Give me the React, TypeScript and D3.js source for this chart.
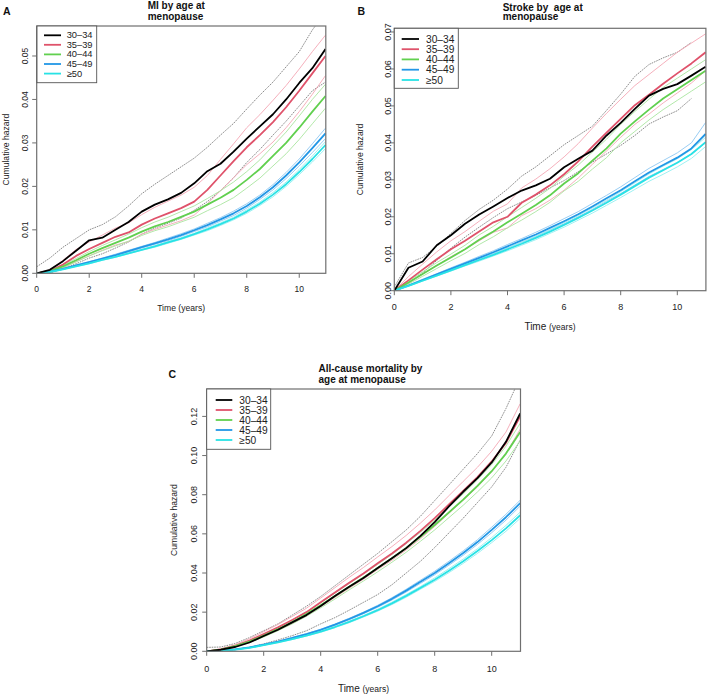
import React from "react";
import * as d3 from "d3";

// ---------- shared categories / ticks ----------
const TIMES = [0, 0.5, 1, 1.5, 2, 2.5, 3, 3.5, 4, 4.5, 5, 5.5, 6, 6.5, 7, 7.5, 8, 8.5, 9, 9.5, 10, 10.5, 11];
const GROUPS = ["30\u201334", "35\u201339", "40\u201344", "45\u201349", "\u226550"];
const GROUP_COLORS = ["#000000", "#DF536B", "#61D04F", "#2297E6", "#28E2E5"];
const CI_COLORS = ["#6e6e6e", "#F4A7B4", "#A9E59F", "#8DC7F2", "#93EFF1"];
const X_TICKS = [0, 2, 4, 6, 8, 10];
const MI_Y_TICKS = [0, 0.01, 0.02, 0.03, 0.04, 0.05];
const STROKE_Y_TICKS = [0, 0.01, 0.02, 0.03, 0.04, 0.05, 0.06, 0.07];
const DEATH_Y_TICKS = [0, 0.02, 0.04, 0.06, 0.08, 0.1, 0.12];

// ---------- Panel A: MI ----------
const MI_30_34 = [0, 0.0008, 0.0028, 0.0052, 0.0076, 0.0082, 0.0100, 0.0118, 0.0142, 0.0158, 0.0170, 0.0185, 0.0207, 0.0235, 0.0252, 0.0280, 0.0310, 0.0338, 0.0366, 0.0400, 0.0438, 0.0472, 0.0516];
const MI_30_34_HI = [0.0015, 0.0035, 0.0060, 0.0080, 0.0100, 0.0112, 0.0130, 0.0155, 0.0183, 0.0205, 0.0225, 0.0245, 0.0265, 0.0290, 0.0318, 0.0345, 0.0378, 0.0410, 0.0440, 0.0475, 0.0510, 0.0560, 0.0600];
const MI_30_34_LO = [0, 0.0001, 0.0010, 0.0022, 0.0035, 0.0045, 0.0058, 0.0072, 0.0090, 0.0104, 0.0115, 0.0127, 0.0145, 0.0165, 0.0190, 0.0220, 0.0255, 0.0285, 0.0318, 0.0350, 0.0385, 0.0420, 0.0440];
const MI_35_39 = [0, 0.0005, 0.0020, 0.0040, 0.0056, 0.0070, 0.0084, 0.0094, 0.0112, 0.0126, 0.0138, 0.0150, 0.0165, 0.0192, 0.0225, 0.0258, 0.0290, 0.0318, 0.0348, 0.0382, 0.0420, 0.0460, 0.0500];
const MI_35_39_HI = [0, 0.0008, 0.0030, 0.0055, 0.0072, 0.0088, 0.0104, 0.0116, 0.0135, 0.0152, 0.0166, 0.0180, 0.0198, 0.0225, 0.0262, 0.0298, 0.0335, 0.0365, 0.0398, 0.0432, 0.0470, 0.0510, 0.0548];
const MI_35_39_LO = [0, 0.0002, 0.0012, 0.0027, 0.0040, 0.0053, 0.0065, 0.0073, 0.0090, 0.0101, 0.0111, 0.0121, 0.0134, 0.0160, 0.0190, 0.0220, 0.0250, 0.0275, 0.0302, 0.0335, 0.0372, 0.0412, 0.0455];
const MI_40_44 = [0, 0.0005, 0.0016, 0.0030, 0.0045, 0.0058, 0.0070, 0.0082, 0.0096, 0.0108, 0.0118, 0.0130, 0.0142, 0.0158, 0.0174, 0.0192, 0.0215, 0.0240, 0.0270, 0.0300, 0.0335, 0.0372, 0.0408];
const MI_40_44_HI = [0, 0.0006, 0.0019, 0.0034, 0.0050, 0.0064, 0.0077, 0.0090, 0.0105, 0.0118, 0.0129, 0.0142, 0.0155, 0.0172, 0.0190, 0.0210, 0.0234, 0.0261, 0.0293, 0.0325, 0.0362, 0.0400, 0.0435];
const MI_40_44_LO = [0, 0.0004, 0.0013, 0.0026, 0.0040, 0.0052, 0.0063, 0.0074, 0.0087, 0.0098, 0.0107, 0.0118, 0.0129, 0.0144, 0.0158, 0.0174, 0.0196, 0.0219, 0.0247, 0.0275, 0.0308, 0.0344, 0.0380];
const MI_45_49 = [0, 0.0004, 0.0010, 0.0018, 0.0026, 0.0034, 0.0042, 0.0051, 0.0060, 0.0069, 0.0078, 0.0088, 0.0099, 0.0111, 0.0124, 0.0138, 0.0155, 0.0175, 0.0198, 0.0225, 0.0255, 0.0288, 0.0322];
const MI_45_49_HI = [0, 0.0004, 0.0011, 0.0019, 0.0027, 0.0035, 0.0044, 0.0053, 0.0062, 0.0071, 0.0081, 0.0091, 0.0102, 0.0115, 0.0128, 0.0143, 0.0160, 0.0180, 0.0204, 0.0232, 0.0263, 0.0298, 0.0334];
const MI_45_49_LO = [0, 0.0004, 0.0009, 0.0017, 0.0025, 0.0033, 0.0040, 0.0049, 0.0058, 0.0067, 0.0075, 0.0085, 0.0096, 0.0107, 0.0120, 0.0133, 0.0150, 0.0170, 0.0192, 0.0218, 0.0247, 0.0278, 0.0310];
const MI_50 = [0, 0.0003, 0.0009, 0.0016, 0.0023, 0.0031, 0.0038, 0.0046, 0.0054, 0.0062, 0.0071, 0.0080, 0.0090, 0.0101, 0.0113, 0.0126, 0.0142, 0.0160, 0.0181, 0.0205, 0.0233, 0.0263, 0.0295];
const MI_50_HI = [0, 0.0003, 0.0009, 0.0016, 0.0024, 0.0032, 0.0039, 0.0047, 0.0055, 0.0064, 0.0073, 0.0082, 0.0092, 0.0104, 0.0116, 0.0129, 0.0146, 0.0164, 0.0186, 0.0210, 0.0239, 0.0270, 0.0303];
const MI_50_LO = [0, 0.0003, 0.0009, 0.0016, 0.0022, 0.0030, 0.0037, 0.0045, 0.0053, 0.0060, 0.0069, 0.0078, 0.0088, 0.0098, 0.0110, 0.0123, 0.0138, 0.0156, 0.0176, 0.0200, 0.0227, 0.0256, 0.0287];

// ---------- Panel B: Stroke ----------
const ST_30_34 = [0, 0.0062, 0.0079, 0.0123, 0.0150, 0.0181, 0.0206, 0.0228, 0.0251, 0.0271, 0.0285, 0.0303, 0.0334, 0.0357, 0.0379, 0.0420, 0.0454, 0.0492, 0.0528, 0.0546, 0.0559, 0.0582, 0.0606];
const ST_30_34_HI = [0.0010, 0.0075, 0.0090, 0.0120, 0.0155, 0.0190, 0.0220, 0.0245, 0.0275, 0.0310, 0.0335, 0.0365, 0.0395, 0.0420, 0.0445, 0.0488, 0.0532, 0.0580, 0.0612, 0.0630, 0.0645, 0.0672, null];
const ST_30_34_LO = [0, 0.0020, 0.0048, 0.0082, 0.0115, 0.0145, 0.0172, 0.0198, 0.0222, 0.0240, 0.0258, 0.0278, 0.0298, 0.0322, 0.0348, 0.0370, 0.0393, 0.0420, 0.0451, 0.0470, 0.0487, 0.0520, null];
const ST_35_39 = [0, 0.0028, 0.0057, 0.0085, 0.0112, 0.0135, 0.0160, 0.0185, 0.0200, 0.0238, 0.0260, 0.0285, 0.0315, 0.0350, 0.0390, 0.0428, 0.0465, 0.0502, 0.0530, 0.0560, 0.0588, 0.0615, 0.0645];
const ST_35_39_HI = [0, 0.0038, 0.0072, 0.0105, 0.0135, 0.0160, 0.0188, 0.0215, 0.0235, 0.0278, 0.0302, 0.0330, 0.0362, 0.0398, 0.0440, 0.0480, 0.0518, 0.0555, 0.0585, 0.0615, 0.0645, 0.0670, 0.0695];
const ST_35_39_LO = [0, 0.0020, 0.0045, 0.0068, 0.0092, 0.0112, 0.0135, 0.0158, 0.0170, 0.0203, 0.0222, 0.0245, 0.0272, 0.0305, 0.0342, 0.0378, 0.0415, 0.0450, 0.0478, 0.0508, 0.0535, 0.0562, 0.0595];
const ST_40_44 = [0, 0.0022, 0.0045, 0.0068, 0.0090, 0.0112, 0.0138, 0.0160, 0.0185, 0.0208, 0.0232, 0.0258, 0.0290, 0.0318, 0.0352, 0.0385, 0.0425, 0.0458, 0.0490, 0.0520, 0.0545, 0.0570, 0.0595];
const ST_40_44_HI = [0, 0.0026, 0.0051, 0.0076, 0.0099, 0.0123, 0.0151, 0.0174, 0.0200, 0.0225, 0.0250, 0.0277, 0.0310, 0.0340, 0.0375, 0.0410, 0.0450, 0.0485, 0.0518, 0.0550, 0.0575, 0.0600, 0.0625];
const ST_40_44_LO = [0, 0.0018, 0.0039, 0.0060, 0.0081, 0.0101, 0.0125, 0.0146, 0.0170, 0.0191, 0.0214, 0.0239, 0.0270, 0.0296, 0.0329, 0.0360, 0.0400, 0.0431, 0.0462, 0.0490, 0.0515, 0.0540, 0.0565];
const ST_45_49 = [0, 0.0014, 0.0029, 0.0044, 0.0059, 0.0074, 0.0089, 0.0104, 0.0120, 0.0136, 0.0152, 0.0170, 0.0188, 0.0207, 0.0228, 0.0250, 0.0272, 0.0296, 0.0320, 0.0340, 0.0360, 0.0385, 0.0424];
const ST_45_49_HI = [0, 0.0015, 0.0031, 0.0046, 0.0062, 0.0077, 0.0093, 0.0108, 0.0125, 0.0141, 0.0158, 0.0176, 0.0195, 0.0214, 0.0236, 0.0258, 0.0281, 0.0306, 0.0331, 0.0352, 0.0373, 0.0400, 0.0455];
const ST_45_49_LO = [0, 0.0013, 0.0027, 0.0042, 0.0056, 0.0071, 0.0085, 0.0100, 0.0115, 0.0131, 0.0146, 0.0164, 0.0181, 0.0200, 0.0220, 0.0242, 0.0263, 0.0286, 0.0309, 0.0328, 0.0347, 0.0370, 0.0400];
const ST_50 = [0, 0.0013, 0.0027, 0.0041, 0.0055, 0.0069, 0.0083, 0.0097, 0.0112, 0.0127, 0.0143, 0.0160, 0.0178, 0.0197, 0.0217, 0.0238, 0.0260, 0.0283, 0.0306, 0.0326, 0.0346, 0.0370, 0.0402];
const ST_50_HI = [0, 0.0014, 0.0028, 0.0042, 0.0057, 0.0071, 0.0086, 0.0100, 0.0116, 0.0131, 0.0148, 0.0165, 0.0184, 0.0203, 0.0224, 0.0245, 0.0268, 0.0292, 0.0316, 0.0337, 0.0357, 0.0382, 0.0415];
const ST_50_LO = [0, 0.0012, 0.0026, 0.0040, 0.0053, 0.0067, 0.0080, 0.0094, 0.0108, 0.0123, 0.0138, 0.0155, 0.0172, 0.0191, 0.0210, 0.0231, 0.0252, 0.0274, 0.0296, 0.0315, 0.0335, 0.0358, 0.0390];

// ---------- Panel C: All-cause mortality ----------
const DE_30_34 = [0, 0.0008, 0.0022, 0.0045, 0.0078, 0.0110, 0.0148, 0.0185, 0.0232, 0.0282, 0.0330, 0.0375, 0.0425, 0.0475, 0.0527, 0.0590, 0.0660, 0.0740, 0.0815, 0.0885, 0.0965, 0.1070, 0.1215];
const DE_30_34_HI = [0.0020, 0.0022, 0.0040, 0.0070, 0.0105, 0.0140, 0.0185, 0.0230, 0.0280, 0.0335, 0.0390, 0.0445, 0.0500, 0.0560, 0.0620, 0.0690, 0.0770, 0.0850, 0.0930, 0.1010, 0.1100, 0.1240, 0.1400];
const DE_30_34_LO = [0, 0.0002, 0.0008, 0.0020, 0.0038, 0.0058, 0.0080, 0.0105, 0.0140, 0.0172, 0.0210, 0.0250, 0.0290, 0.0340, 0.0400, 0.0460, 0.0530, 0.0605, 0.0680, 0.0760, 0.0840, 0.0940, 0.1080];
const DE_35_39 = [0, 0.0010, 0.0028, 0.0055, 0.0088, 0.0122, 0.0160, 0.0200, 0.0250, 0.0300, 0.0350, 0.0398, 0.0450, 0.0500, 0.0555, 0.0615, 0.0680, 0.0750, 0.0820, 0.0890, 0.0970, 0.1065, 0.1200];
const DE_35_39_HI = [0, 0.0013, 0.0034, 0.0064, 0.0100, 0.0137, 0.0178, 0.0220, 0.0272, 0.0325, 0.0378, 0.0428, 0.0482, 0.0535, 0.0592, 0.0655, 0.0722, 0.0795, 0.0868, 0.0940, 0.1022, 0.1120, 0.1265];
const DE_35_39_LO = [0, 0.0007, 0.0022, 0.0046, 0.0076, 0.0107, 0.0142, 0.0180, 0.0228, 0.0275, 0.0322, 0.0368, 0.0418, 0.0465, 0.0518, 0.0575, 0.0638, 0.0705, 0.0772, 0.0840, 0.0918, 0.1010, 0.1135];
const DE_40_44 = [0, 0.0009, 0.0026, 0.0050, 0.0080, 0.0113, 0.0150, 0.0190, 0.0235, 0.0282, 0.0330, 0.0377, 0.0425, 0.0475, 0.0528, 0.0585, 0.0645, 0.0710, 0.0775, 0.0845, 0.0920, 0.1010, 0.1120];
const DE_40_44_HI = [0, 0.0010, 0.0029, 0.0055, 0.0087, 0.0121, 0.0160, 0.0201, 0.0248, 0.0297, 0.0346, 0.0395, 0.0444, 0.0495, 0.0550, 0.0608, 0.0670, 0.0737, 0.0804, 0.0876, 0.0954, 0.1048, 0.1165];
const DE_40_44_LO = [0, 0.0008, 0.0023, 0.0045, 0.0073, 0.0105, 0.0140, 0.0179, 0.0222, 0.0267, 0.0314, 0.0359, 0.0406, 0.0455, 0.0506, 0.0562, 0.0620, 0.0683, 0.0746, 0.0814, 0.0886, 0.0972, 0.1075];
const DE_45_49 = [0, 0.0003, 0.0010, 0.0020, 0.0034, 0.0050, 0.0068, 0.0088, 0.0110, 0.0136, 0.0165, 0.0196, 0.0230, 0.0268, 0.0310, 0.0355, 0.0400, 0.0450, 0.0502, 0.0558, 0.0620, 0.0685, 0.0757];
const DE_45_49_HI = [0, 0.0003, 0.0010, 0.0021, 0.0035, 0.0051, 0.0070, 0.0090, 0.0113, 0.0139, 0.0169, 0.0200, 0.0235, 0.0274, 0.0317, 0.0363, 0.0409, 0.0460, 0.0513, 0.0570, 0.0634, 0.0700, 0.0772];
const DE_45_49_LO = [0, 0.0003, 0.0010, 0.0019, 0.0033, 0.0049, 0.0066, 0.0086, 0.0107, 0.0133, 0.0161, 0.0192, 0.0225, 0.0262, 0.0303, 0.0347, 0.0391, 0.0440, 0.0491, 0.0546, 0.0606, 0.0670, 0.0742];
const DE_50 = [0, 0.0003, 0.0009, 0.0018, 0.0031, 0.0046, 0.0062, 0.0080, 0.0100, 0.0124, 0.0150, 0.0179, 0.0210, 0.0245, 0.0283, 0.0324, 0.0366, 0.0412, 0.0460, 0.0512, 0.0568, 0.0628, 0.0695];
const DE_50_HI = [0, 0.0003, 0.0009, 0.0019, 0.0032, 0.0047, 0.0064, 0.0082, 0.0103, 0.0127, 0.0154, 0.0183, 0.0215, 0.0251, 0.0290, 0.0331, 0.0375, 0.0422, 0.0471, 0.0524, 0.0581, 0.0643, 0.0711];
const DE_50_LO = [0, 0.0003, 0.0009, 0.0017, 0.0030, 0.0045, 0.0060, 0.0078, 0.0097, 0.0121, 0.0146, 0.0175, 0.0205, 0.0239, 0.0276, 0.0317, 0.0357, 0.0402, 0.0449, 0.0500, 0.0555, 0.0613, 0.0679];

type Num = number | null;
type Series = { est: Num[]; lo: Num[]; hi: Num[] };

const FONT = "'Liberation Sans', Arial, Helvetica, sans-serif";

interface PanelCfg {
  letter: string;
  letterPos: [number, number];
  title: string[];
  titleX: number;
  titleY: number[];
  left: number;
  right: number;
  top: number;
  bottom: number;
  yMax: number;
  yTicks: number[];
  yTickX: number;
  yLabelX: number;
  xTickY: number;
  xLabelY: number;
  xLabelSplit: boolean;
  tickFont: number;
  legend: { x0: number; x1: number; y1: number; lineX0: number; lineX1: number; textX: number; rows: number[]; font: number };
  series: Series[];
}

const PANELS: PanelCfg[] = [
  {
    letter: "A",
    letterPos: [3, 15],
    title: ["MI by age at", "menopause"],
    titleX: 147.7,
    titleY: [9.3, 19.6],
    left: 36.7, right: 325.5, top: 26, bottom: 273.3,
    yMax: 0.0569,
    yTicks: MI_Y_TICKS,
    yTickX: 25,
    yLabelX: 6,
    xTickY: 292,
    xLabelY: 311.3,
    xLabelSplit: false,
    tickFont: 8.5,
    legend: { x0: 37, x1: 96.7, y1: 82.7, lineX0: 44, lineX1: 61, textX: 66.7, rows: [35.3, 44.8, 54.4, 64, 73.6], font: 9.3 },
    series: [
      { est: MI_30_34, lo: MI_30_34_LO, hi: MI_30_34_HI },
      { est: MI_35_39, lo: MI_35_39_LO, hi: MI_35_39_HI },
      { est: MI_40_44, lo: MI_40_44_LO, hi: MI_40_44_HI },
      { est: MI_45_49, lo: MI_45_49_LO, hi: MI_45_49_HI },
      { est: MI_50, lo: MI_50_LO, hi: MI_50_HI },
    ],
  },
  {
    letter: "B",
    letterPos: [357.5, 14.5],
    title: ["Stroke by  age at", "menopause"],
    titleX: 502.7,
    titleY: [10.8, 20.3],
    left: 394.3, right: 705.6, top: 28.3, bottom: 290.7,
    yMax: 0.071,
    yTicks: STROKE_Y_TICKS,
    yTickX: 388.3,
    yLabelX: 360,
    xTickY: 310,
    xLabelY: 330,
    xLabelSplit: true,
    tickFont: 9,
    legend: { x0: 394.3, x1: 458.3, y1: 88.3, lineX0: 401.7, lineX1: 419, textX: 426, rows: [39, 49.2, 59.4, 69.7, 80], font: 10.2 },
    series: [
      { est: ST_30_34, lo: ST_30_34_LO, hi: ST_30_34_HI },
      { est: ST_35_39, lo: ST_35_39_LO, hi: ST_35_39_HI },
      { est: ST_40_44, lo: ST_40_44_LO, hi: ST_40_44_HI },
      { est: ST_45_49, lo: ST_45_49_LO, hi: ST_45_49_HI },
      { est: ST_50, lo: ST_50_LO, hi: ST_50_HI },
    ],
  },
  {
    letter: "C",
    letterPos: [168.5, 377.5],
    title: ["All-cause mortality by", "age at menopause"],
    titleX: 318.5,
    titleY: [372.3, 382.5],
    left: 206.7, right: 520.2, top: 389, bottom: 651.3,
    yMax: 0.134,
    yTicks: DEATH_Y_TICKS,
    yTickX: 194,
    yLabelX: 173.5,
    xTickY: 671.7,
    xLabelY: 691.5,
    xLabelSplit: true,
    tickFont: 9,
    legend: { x0: 206.7, x1: 270.7, y1: 449.3, lineX0: 215.7, lineX1: 232.3, textX: 239.3, rows: [400, 410, 420, 430, 440], font: 10.2 },
    series: [
      { est: DE_30_34, lo: DE_30_34_LO, hi: DE_30_34_HI },
      { est: DE_35_39, lo: DE_35_39_LO, hi: DE_35_39_HI },
      { est: DE_40_44, lo: DE_40_44_LO, hi: DE_40_44_HI },
      { est: DE_45_49, lo: DE_45_49_LO, hi: DE_45_49_HI },
      { est: DE_50, lo: DE_50_LO, hi: DE_50_HI },
    ],
  },
];

const AXIS_COLOR = "#6f6f6f";

function Panel({ cfg, idx }: { cfg: PanelCfg; idx: number }) {
  const x = d3.scaleLinear().domain([0, 11]).range([cfg.left, cfg.right]);
  const y = d3.scaleLinear().domain([0, cfg.yMax]).range([cfg.bottom, cfg.top]);
  const line = d3
    .line<[number, Num]>()
    .defined((d) => d[1] != null)
    .x((d) => x(d[0]))
    .y((d) => y(d[1] as number))
    .curve(d3.curveLinear);
  const pts = (vals: Num[]) => TIMES.map((t, i) => [t, vals[i]] as [number, Num]);
  const clipId = `clip-${idx}`;
  const boxRight = cfg.right + 0.3;
  const order = [1, 2, 3, 4, 0];
  const midX = (cfg.left + cfg.right) / 2;
  const midY = (cfg.top + cfg.bottom) / 2;
  const lg = cfg.legend;

  return (
    <g>
      <defs>
        <clipPath id={clipId}>
          <rect x={cfg.left} y={cfg.top} width={boxRight - cfg.left} height={cfg.bottom - cfg.top} />
        </clipPath>
      </defs>
      {/* letter and title */}
      <text x={cfg.letterPos[0]} y={cfg.letterPos[1]} fontFamily={FONT} fontWeight="bold" fontSize={10.5} fill="#111">
        {cfg.letter}
      </text>
      {cfg.title.map((t, i) => (
        <text key={i} x={cfg.titleX} y={cfg.titleY[i]} fontFamily={FONT} fontWeight="bold" fontSize={10} fill="#111" style={{ whiteSpace: "pre" }}>
          {t}
        </text>
      ))}

      {/* curves */}
      <g clipPath={`url(#${clipId})`}>
        {cfg.series.map((s, gi) => (
          <g key={"ci" + gi}>
            <path d={line(pts(s.lo)) || ""} fill="none" stroke={CI_COLORS[gi]} strokeWidth={gi === 0 ? 0.8 : 0.9} strokeDasharray={gi === 0 ? "1.6 0.9" : undefined} />
            <path d={line(pts(s.hi)) || ""} fill="none" stroke={CI_COLORS[gi]} strokeWidth={gi === 0 ? 0.8 : 0.9} strokeDasharray={gi === 0 ? "1.6 0.9" : undefined} />
          </g>
        ))}
        {order.map((gi) => (
          <path key={"m" + gi} d={line(pts(cfg.series[gi].est)) || ""} fill="none" stroke={GROUP_COLORS[gi]} strokeWidth={1.8} strokeLinejoin="round" />
        ))}
      </g>

      {/* box */}
      <rect x={cfg.left} y={cfg.top} width={boxRight - cfg.left} height={cfg.bottom - cfg.top} fill="none" stroke={AXIS_COLOR} strokeWidth={1.2} />

      {/* x axis */}
      {X_TICKS.map((t) => (
        <g key={"xt" + t}>
          <line x1={x(t)} x2={x(t)} y1={cfg.bottom} y2={cfg.bottom + 4.5} stroke={AXIS_COLOR} strokeWidth={1} />
          <text x={x(t)} y={cfg.xTickY} textAnchor="middle" fontFamily={FONT} fontSize={cfg.tickFont} fill="#222">
            {String(t)}
          </text>
        </g>
      ))}
      {cfg.xLabelSplit ? (
        <text x={midX} y={cfg.xLabelY} textAnchor="middle" fontFamily={FONT} fill="#222">
          <tspan fontSize={10}>Time </tspan>
          <tspan fontSize={8.5}>(years)</tspan>
        </text>
      ) : (
        <text x={midX} y={cfg.xLabelY} textAnchor="middle" fontFamily={FONT} fontSize={8.6} fill="#222">
          Time (years)
        </text>
      )}

      {/* y axis */}
      {cfg.yTicks.map((v) => (
        <g key={"yt" + v}>
          <line x1={cfg.left - 4.5} x2={cfg.left} y1={y(v)} y2={y(v)} stroke={AXIS_COLOR} strokeWidth={1} />
          <text
            transform={`translate(${cfg.yTickX},${y(v)}) rotate(-90)`}
            textAnchor="middle"
            dominantBaseline="central"
            fontFamily={FONT}
            fontSize={cfg.tickFont}
            fill="#222"
          >
            {v.toFixed(2)}
          </text>
        </g>
      ))}
      <text
        transform={`translate(${cfg.yLabelX},${midY}) rotate(-90)`}
        textAnchor="middle"
        dominantBaseline="central"
        fontFamily={FONT}
        fontSize={8.6}
        fill="#222"
      >
        Cumulative hazard
      </text>

      {/* legend */}
      <rect x={lg.x0} y={cfg.top} width={lg.x1 - lg.x0} height={lg.y1 - cfg.top} fill="#fff" stroke="#555" strokeWidth={0.9} />
      {GROUPS.map((g, gi) => (
        <g key={"lg" + gi}>
          <line x1={lg.lineX0} x2={lg.lineX1} y1={lg.rows[gi]} y2={lg.rows[gi]} stroke={GROUP_COLORS[gi]} strokeWidth={1.8} />
          <text x={lg.textX} y={lg.rows[gi]} dominantBaseline="central" fontFamily={FONT} fontSize={lg.font} fill="#222">
            {g}
          </text>
        </g>
      ))}
    </g>
  );
}

export default function App() {
  return (
    <svg
      width={709}
      height={695}
      viewBox="0 0 709 695"
      style={{ position: "absolute", left: 0, top: 0, background: "#fff", display: "block" }}
    >
      <rect x={0} y={0} width={709} height={695} fill="#fff" />
      {PANELS.map((p, i) => (
        <Panel key={p.letter} cfg={p} idx={i} />
      ))}
    </svg>
  );
}
